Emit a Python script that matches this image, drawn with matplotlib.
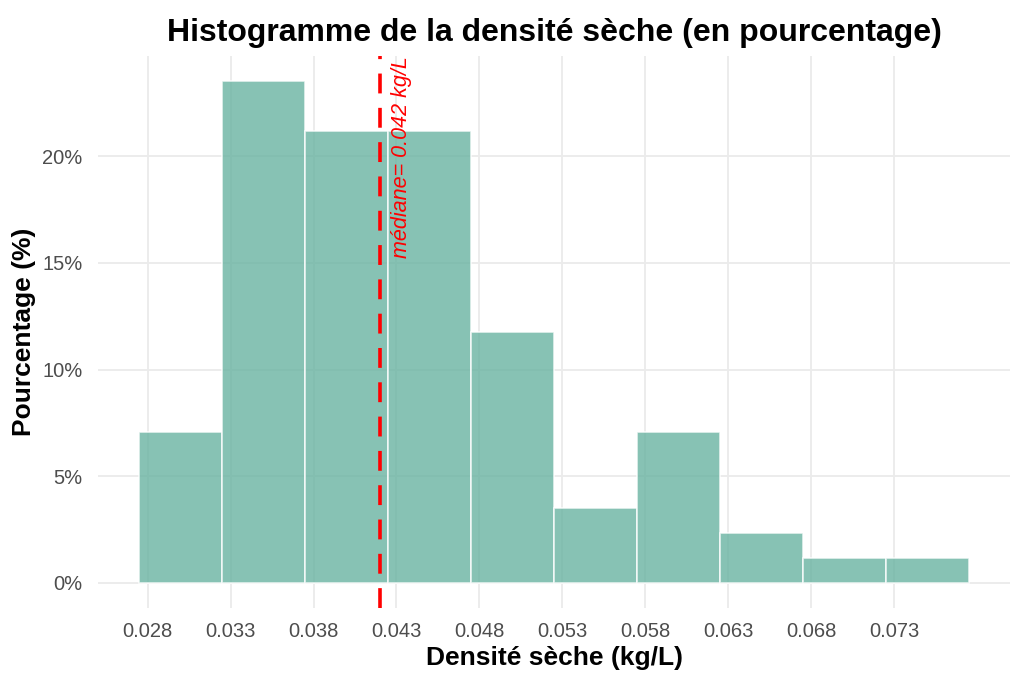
import matplotlib
matplotlib.use("Agg")
import matplotlib.pyplot as plt
import matplotlib.transforms as mtransforms
from matplotlib.ticker import PercentFormatter
import numpy as np

# histogram bins (kg/L) and counts per bin
bin_starts = [0.0275, 0.0325, 0.0375, 0.0425, 0.0475, 0.0525, 0.0575, 0.0625, 0.0675, 0.0725]
bin_width = 0.005
counts = [6, 20, 18, 18, 10, 3, 6, 2, 1, 1]
median_value = 0.042

x_ticks = [0.028, 0.033, 0.038, 0.043, 0.048, 0.053, 0.058, 0.063, 0.068, 0.073]
y_ticks = [0, 5, 10, 15, 20]

percent = np.array(counts) / sum(counts) * 100

plt.rcParams["font.family"] = ["Liberation Sans", "DejaVu Sans"]

fig = plt.figure(figsize=(10.24, 6.83), dpi=100)
ax = fig.add_axes([98 / 1024, 75 / 683, 912 / 1024, 552 / 683])

ax.bar(bin_starts, percent, width=bin_width, align="edge",
       color="#69b3a2", alpha=0.8, edgecolor="white", linewidth=1.2, zorder=2)

ax.axvline(median_value, color="red", linewidth=2.6, linestyle=(0, (5.5, 4)), zorder=3)
trans = mtransforms.blended_transform_factory(ax.transData, ax.transAxes)
ax.annotate(f"médiane= {median_value:.3f} kg/L", xy=(median_value, 1), xycoords=trans,
            xytext=(8, 0), textcoords="offset points", rotation=90,
            ha="left", va="top", color="red", fontstyle="italic", fontsize=15.5)

span = bin_starts[-1] + bin_width - bin_starts[0]
ax.set_xlim(bin_starts[0] - 0.05 * span, bin_starts[-1] + bin_width + 0.05 * span)
ymax = percent.max()
ax.set_ylim(-0.05 * ymax, ymax * 1.05)

ax.set_xticks(x_ticks)
ax.set_xticklabels([f"{t:.3f}" for t in x_ticks])
ax.set_yticks(y_ticks)
ax.yaxis.set_major_formatter(PercentFormatter(decimals=0))

ax.grid(True, color="#EBEBEB", linewidth=1.3, zorder=0)
ax.set_axisbelow(True)
for side in ax.spines.values():
    side.set_visible(False)
ax.tick_params(length=0, labelsize=14.5, labelcolor="#4D4D4D")
ax.tick_params(axis="x", pad=10)
ax.tick_params(axis="y", pad=11)

ax.set_xlabel("Densité sèche (kg/L)", fontsize=19, fontweight="bold", labelpad=4)
ax.set_ylabel("Pourcentage (%)", fontsize=19, fontweight="bold", labelpad=5)
ax.set_title("Histogramme de la densité sèche (en pourcentage)",
             fontsize=23, fontweight="bold", pad=11)

fig.savefig("out.png", dpi=100)
